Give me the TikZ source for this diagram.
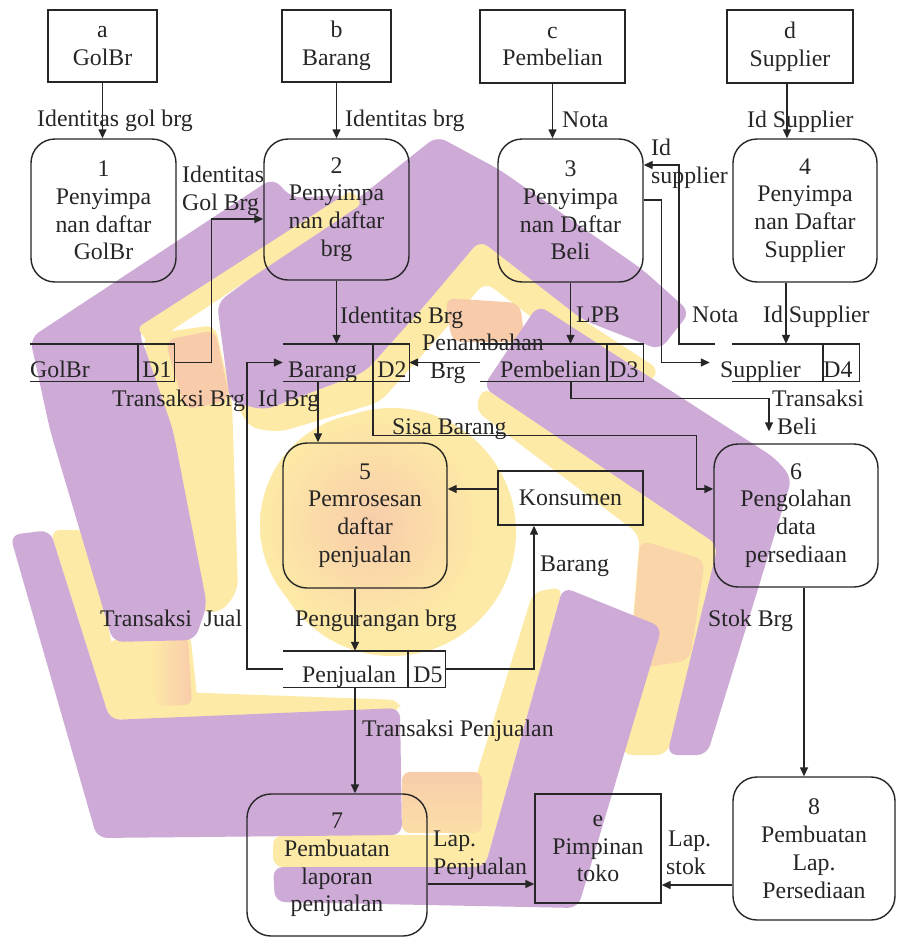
\documentclass[tikz,border=0pt]{standalone}
\usepackage{fontspec}
\setmainfont{Liberation Serif}
\usetikzlibrary{arrows.meta,calc}
\definecolor{wpurple}{RGB}{206,170,215}
\definecolor{wyellow}{RGB}{253,234,166}
\definecolor{wpeach}{RGB}{248,204,170}
\definecolor{ink}{RGB}{38,38,38}
\begin{document}
\begin{tikzpicture}[x=1pt,y=-1pt,
  font=\fontsize{23.8pt}{27.8pt}\selectfont,
  proc/.style={draw=ink, line width=1.4pt, rounded corners=24pt, align=center, inner sep=0pt, text=ink},
  ext/.style={draw=ink, line width=1.4pt, align=center, inner sep=0pt, text=ink},
  store/.style={inner sep=0pt, minimum height=37pt},
  flow/.style={draw=ink, line width=1.4pt, -{Triangle[length=9pt,width=8pt]}},
  sline/.style={draw=ink, line width=1.4pt},
  lbl/.style={anchor=base west, align=left, inner sep=0pt, text=ink},
  stxt/.style={anchor=base west, inner sep=0pt, text=ink},
  sid/.style={anchor=base, inner sep=0pt, text=ink},
  wm/.style={rounded corners=10pt}
]
\useasboundingbox (0,0) rectangle (898,937);
\fill[white] (0,0) rectangle (898,937);

% ---------- watermark ----------
\fill[wyellow] (392,532) circle (124pt);
\shade[inner color=wpeach, outer color=wyellow] (372,525) circle (112pt);
\begin{scope}[wm]
\fill[wyellow] (143,335) -- (215,325) -- (232,400) -- (238,590) -- (222,612) -- (200,612) -- cycle;
\fill[wpeach] (165,340) -- (215,330) -- (230,400) -- (185,410) -- cycle;
\fill[wyellow] (235,402) -- (265,410) -- (365,372) -- (425,305) -- (480,240) -- (583,320) -- (660,370) -- (640,392) -- (575,350) -- (485,282) -- (440,335) -- (380,402) -- (280,432) -- (250,428) -- cycle;
\fill[wpeach] (445,298) -- (520,303) -- (525,342) -- (452,342) -- cycle;
\fill[wyellow] (483,387) -- (720,545) -- (667,755) -- (622,755) -- (640,535) -- (475,410) -- cycle;
\fill[wpeach!70!wyellow] (640,540) -- (705,560) -- (690,660) -- (630,670) -- cycle;
\fill[wyellow] (563,587) -- (485,867) -- (273,867) -- (273,835) -- (458,835) -- (533,592) -- cycle;
\fill[wyellow] (50,530) -- (87,530) -- (122,690) -- (400,700) -- (400,712) -- (110,720) -- cycle;
\fill[wyellow] (108,640) -- (190,632) -- (198,705) -- (112,708) -- cycle;
\end{scope}
\shade[left color=wyellow, right color=wpeach, rounded corners=8pt] (150,640) -- (188,636) -- (192,705) -- (155,706) -- cycle;
\shade[top color=wpeach, bottom color=wpeach!40!wyellow, rounded corners=8pt] (402,772) -- (482,772) -- (482,833) -- (402,833) -- cycle;
\begin{scope}[wm]
% purple chevrons
\fill[wpurple] (30,338) -- (273,178) -- (292,198) -- (345,195) -- (137,332) -- (142,340) -- (173,430) -- (207,605) -- (195,640) -- (113,642) -- (50,430) -- cycle;
\fill[wpurple] (217,303) -- (360,197) -- (437,136) -- (500,170) -- (643,270) -- (690,312) -- (660,350) -- (583,320) -- (480,240) -- (425,305) -- (365,372) -- (265,410) -- (230,402) -- cycle;
\fill[wpurple] (538,305) -- (775,458) -- (792,478) -- (707,755) -- (667,755) -- (718,545) -- (483,387) -- cycle;
\fill[wpurple] (563,587) -- (662,627) -- (578,908) -- (275,902) -- (273,867) -- (485,867) -- cycle;
\fill[wpurple] (10,535) -- (50,530) -- (110,720) -- (400,708) -- (402,835) -- (97,838) -- cycle;
\end{scope}
\fill[wyellow, rounded corners=6pt] (137,328) -- (352,190) -- (362,204) -- (150,345) -- cycle;

% ---------- external entities ----------
\node[ext, minimum width=109pt, minimum height=72pt] (a) at (102.5,46) {a\\GolBr};
\node[ext, minimum width=109pt, minimum height=72pt] (b) at (336.5,46) {b\\Barang};
\node[ext, minimum width=145pt, minimum height=73pt] (c) at (552.5,46.5) {c\\Pembelian};
\node[ext, minimum width=126pt, minimum height=73pt] (d) at (790,46.5) {d\\Supplier};
\node[ext, minimum width=145pt, minimum height=54pt] (kon) at (570.5,498) {Konsumen};
\node[ext, minimum width=126pt, minimum height=109pt] (e) at (598,848.5) {e\\Pimpinan\\toko};

% ---------- processes ----------
\node[proc, minimum width=145pt, minimum height=143pt] (p1) at (103.5,210.5) {1\\Penyimpa\\nan daftar\\GolBr};
\node[proc, minimum width=145pt, minimum height=141pt] (p2) at (336.5,209.5) {2\\Penyimpa\\nan daftar\\brg};
\node[proc, minimum width=145pt, minimum height=143pt] (p3) at (570.5,210.5) {3\\Penyimpa\\nan Daftar\\Beli};
\node[proc, minimum width=144pt, minimum height=143pt] (p4) at (805,210.5) {4\\Penyimpa\\nan Daftar\\Supplier};
\node[proc, minimum width=164pt, minimum height=145pt] (p5) at (365,515.5) {5\\Pemrosesan\\daftar\\penjualan};
\node[proc, minimum width=164pt, minimum height=143pt] (p6) at (796,515.5) {6\\Pengolahan\\data\\persediaan};
\node[proc, minimum width=180pt, minimum height=142pt] (p7) at (337,865) {7\\Pembuatan\\laporan\\penjualan};
\node[proc, minimum width=162pt, minimum height=143pt] (p8) at (814,848.5) {8\\Pembuatan\\Lap.\\Persediaan};

% ---------- data stores ----------
\node[store, minimum width=144pt] (D1) at (102,362.5) {};
\draw[sline] (D1.north west) -- (D1.north east) -- (D1.south east) -- (D1.south west);
\draw[sline] ($(D1.north west)+(108,0)$) -- ($(D1.south west)+(108,0)$);
\node[stxt] (D1n) at (30,377) {GolBr};
\node[sid] (D1i) at (157,377) {D1};

\node[store, minimum width=126pt] (D2) at (346,362.5) {};
\draw[sline] (D2.north west) -- (D2.north east) -- (D2.south east) -- (D2.south west);
\draw[sline] ($(D2.north west)+(90,0)$) -- ($(D2.south west)+(90,0)$);
\node[stxt] (D2n) at (288,377) {Barang};
\node[sid] (D2i) at (392,377) {D2};

\node[store, minimum width=163pt] (D3) at (561.5,362.5) {};
\draw[sline] (D3.north west) -- (D3.north east) -- (D3.south east) -- (D3.south west);
\draw[sline] ($(D3.north west)+(127,0)$) -- ($(D3.south west)+(127,0)$);
\node[stxt] (D3n) at (500,377) {Pembelian};
\node[sid] (D3i) at (624,377) {D3};

\node[store, minimum width=127pt] (D4) at (795.5,362.5) {};
\draw[sline] (D4.north west) -- (D4.north east) -- (D4.south east) -- (D4.south west);
\draw[sline] ($(D4.north west)+(91,0)$) -- ($(D4.south west)+(91,0)$);
\node[stxt] (D4n) at (720,377) {Supplier};
\node[sid] (D4i) at (838,377) {D4};

\node[store, minimum width=162pt, minimum height=36pt] (D5) at (364,669) {};
\draw[sline] (D5.north west) -- (D5.north east) -- (D5.south east) -- (D5.south west);
\draw[sline] ($(D5.north west)+(125,0)$) -- ($(D5.south west)+(125,0)$);
\node[stxt] (D5n) at (302,682) {Penjualan};
\node[sid] (D5i) at (428,682) {D5};

% ---------- flows ----------
\draw[flow] (a.south) -- (a.south |- p1.north);
\draw[flow] (b.south) -- (b.south |- p2.north);
\draw[flow] (c.south) -- (c.south |- p3.north);
\draw[flow] ([xshift=-3pt]d.south) -- ([xshift=-3pt]d.south |- p4.north);
\draw[flow] (D1.east) -- ++(37,0) |- ([yshift=-9.5pt]p2.west);
\draw[flow] (p2.south) -- (p2.south |- D2.north);
\draw[flow] (D3.west) -- (D2.east);
\draw[flow] (p3.south) -- (p3.south |- D3.north);
\draw[flow] ([yshift=10.5pt]p3.east) -- ++(18,0) |- ([xshift=-22pt]D4.west);
\draw[flow] ([xshift=-17pt]D4.north west) -- ++(-36,0) |- ([yshift=45.5pt]p3.east);
\draw[flow] ([xshift=-19pt]p4.south) -- ([xshift=-19pt]p4.south |- D4.north);
\draw[flow, shorten >=12pt] ([xshift=9.5pt]D3.south) -- ++(0,17) -| ([xshift=-27pt]p6.north);
\draw[flow] ([xshift=27pt]D2.south) -- ++(0,54) -| ($([yshift=26.5pt]p6.west)+(-17,0)$) -- ([yshift=26.5pt]p6.west);
\draw[flow] ([xshift=-28pt]D2.south) -- ([xshift=-28pt]D2.south |- p5.north);
\draw[flow] (D5.west) -- ++(-36,0) |- (D2.west);
\draw[flow] ([yshift=9pt]kon.west) -- ([yshift=9pt]kon.west -| p5.east);
\draw[flow] ([xshift=-10pt]p5.south) -- ([xshift=-10pt]p5.south |- D5.north);
\draw[flow] (D5.east) -| ([xshift=-36.5pt]kon.south);
\draw[flow] ([xshift=-9pt]D5.south) -- ([xshift=-9pt]D5.south |- p7.north);
\draw[flow] ([yshift=-19pt]p7.east) -- ([yshift=-19pt]p7.east -| e.west);
\draw[flow] ([yshift=-36.5pt]p8.west) -- ([yshift=-36.5pt]p8.west -| e.east);
\draw[flow] ([xshift=8pt]p6.south) -- ([xshift=8pt]p6.south |- p8.north);

% ---------- labels (multi-line: baseline of last line) ----------
\node[lbl] (l1) at (37,126) {Identitas gol brg};
\node[lbl] (l2) at (345,126) {Identitas brg};
\node[lbl] (l3) at (562,127) {Nota};
\node[lbl] (l4) at (747,127) {Id Supplier};
\node[lbl] (l5) at (182,210) {Identitas\\Gol Brg};
\node[lbl] (l6) at (651,183) {Id\\supplier};
\node[lbl] (l7) at (340,323) {Identitas Brg};
\node[lbl] (l8) at (576,322) {LPB};
\node[lbl] (l9) at (692,322) {Nota};
\node[lbl] (l10) at (763,322) {Id Supplier};
\node[lbl] (l11) at (422,378) {Penambahan\\\hspace*{8pt}Brg};
\node[lbl] (l12) at (112,406) {Transaksi Brg};
\node[lbl] (l13) at (258,406) {Id Brg};
\node[lbl] (l14) at (772,434) {Transaksi\\\hspace*{5pt}Beli};
\node[lbl] (l15) at (392,434) {Sisa Barang};
\node[lbl] (l16) at (540,571) {Barang};
\node[lbl] (l17) at (100,626) {Transaksi\ \ Jual};
\node[lbl] (l18) at (295,626) {Pengurangan brg};
\node[lbl] (l19) at (708,626) {Stok Brg};
\node[lbl] (l20) at (362,736) {Transaksi Penjualan};
\node[lbl] (l21) at (433,874) {Lap.\\Penjualan};
\node[lbl] (l22) at (666,874) {\hspace*{2pt}Lap.\\stok};
\end{tikzpicture}
\end{document}
